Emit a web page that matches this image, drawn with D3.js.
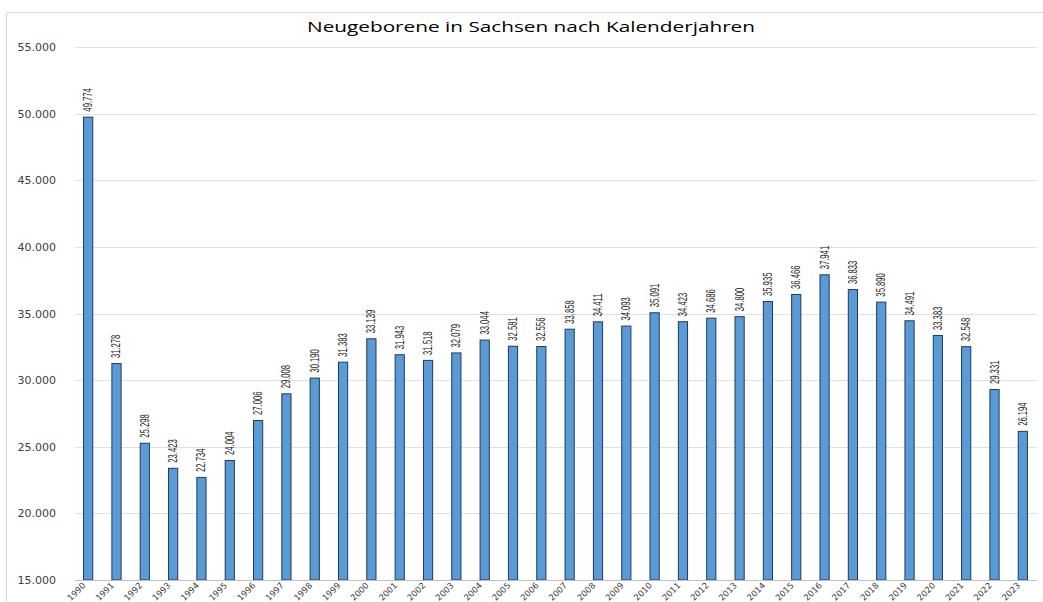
<!DOCTYPE html>
<html>
<head>
<meta charset="utf-8">
<script src="https://cdn.jsdelivr.net/npm/d3@7"></script>
<style>
  body { margin: 0; background: #fff; }
  svg { display: block; }
</style>
</head>
<body>
<div id="chart"></div>
<script>
const years = [1990, 1991, 1992, 1993, 1994, 1995, 1996, 1997, 1998, 1999, 2000, 2001,
  2002, 2003, 2004, 2005, 2006, 2007, 2008, 2009, 2010, 2011, 2012, 2013, 2014, 2015,
  2016, 2017, 2018, 2019, 2020, 2021, 2022, 2023];
const births = [49774, 31278, 25298, 23423, 22734, 24004, 27006, 29008, 30190, 31383, 33139,
  31943, 31518, 32079, 33044, 32581, 32556, 33858, 34411, 34093, 35091, 34423, 34686, 34800,
  35935, 36466, 37941, 36833, 35890, 34491, 33383, 32548, 29331, 26194];
const yTicks = [15000, 20000, 25000, 30000, 35000, 40000, 45000, 50000, 55000];
const title = 'Neugeborene in Sachsen nach Kalenderjahren';

const width = 1043, height = 602;
const plot = { left: 74, right: 1037, top: 47, bottom: 580 };

const de = d3.formatLocale({ decimal: ',', thousands: '.', grouping: [3], currency: ['', '€'] });
const fmt = de.format(',d');

const svg = d3.select('#chart').append('svg')
  .attr('width', width)
  .attr('height', height);

// chart area border (runs off the right / bottom edge)
svg.append('rect')
  .attr('x', 6.5).attr('y', 12.5)
  .attr('width', 1100).attr('height', 700)
  .attr('fill', 'none')
  .attr('stroke', '#d9d9d9');

const x = d3.scaleBand()
  .domain(years)
  .range([plot.left, plot.right])
  .paddingInner(0.64)
  .paddingOuter(0.32);

const y = d3.scaleLinear()
  .domain([15000, 55000])
  .range([plot.bottom, plot.top]);

// gridlines
svg.append('g')
  .selectAll('line')
  .data(yTicks.slice(1))
  .enter()
  .append('line')
  .attr('x1', plot.left + 1).attr('x2', plot.right)
  .attr('y1', d => Math.round(y(d)) + 0.5)
  .attr('y2', d => Math.round(y(d)) + 0.5)
  .attr('stroke', '#e0e0e0')
  .attr('stroke-width', 1);

// y tick labels
svg.append('g')
  .selectAll('text')
  .data(yTicks)
  .enter()
  .append('text')
  .attr('x', 56)
  .attr('y', d => y(d) + 4)
  .attr('text-anchor', 'end')
  .attr('font-family', 'DejaVu Sans')
  .attr('font-size', '11px')
  .attr('fill', '#404040')
  .text(d => fmt(d));

// bars
svg.append('g')
  .selectAll('rect')
  .data(births)
  .enter()
  .append('rect')
  .attr('x', (d, i) => x(years[i]) + 0.5)
  .attr('y', d => y(d) + 0.5)
  .attr('width', x.bandwidth() - 1)
  .attr('height', d => y.range()[0] - y(d) - 0.5)
  .attr('fill', '#5b9bd5')
  .attr('stroke', '#1f3864')
  .attr('stroke-width', 1);

// x axis baseline
svg.append('line')
  .attr('x1', plot.left + 1).attr('x2', plot.right)
  .attr('y1', plot.bottom + 0.5).attr('y2', plot.bottom + 0.5)
  .attr('stroke', '#bfbfbf');

// value labels (condensed, like the narrow Excel font)
svg.append('g')
  .selectAll('text')
  .data(births)
  .enter()
  .append('text')
  .attr('transform', (d, i) =>
    `translate(${x(years[i]) + x.bandwidth() / 2 + 4},${y(d) - 5}) rotate(-90) scale(0.64,1)`)
  .attr('font-family', "'Liberation Sans', Arial, sans-serif")
  .attr('font-size', '12px')
  .attr('fill', '#262626')
  .text(d => fmt(d));

// year labels
svg.append('g')
  .selectAll('text')
  .data(years)
  .enter()
  .append('text')
  .attr('transform', d =>
    `translate(${x(d) + x.bandwidth() / 2 - 2},${plot.bottom + 6}) rotate(-45)`)
  .attr('text-anchor', 'end')
  .attr('font-family', 'DejaVu Sans')
  .attr('font-size', '8.5px')
  .attr('fill', '#404040')
  .text(d => d);

// title
svg.append('text')
  .attr('x', 531)
  .attr('y', 32)
  .attr('text-anchor', 'middle')
  .attr('font-family', "'Open Sans', sans-serif")
  .attr('font-size', '15px')
  .attr('textLength', 448)
  .attr('lengthAdjust', 'spacingAndGlyphs')
  .attr('fill', '#000')
  .text(title);
</script>
</body>
</html>
